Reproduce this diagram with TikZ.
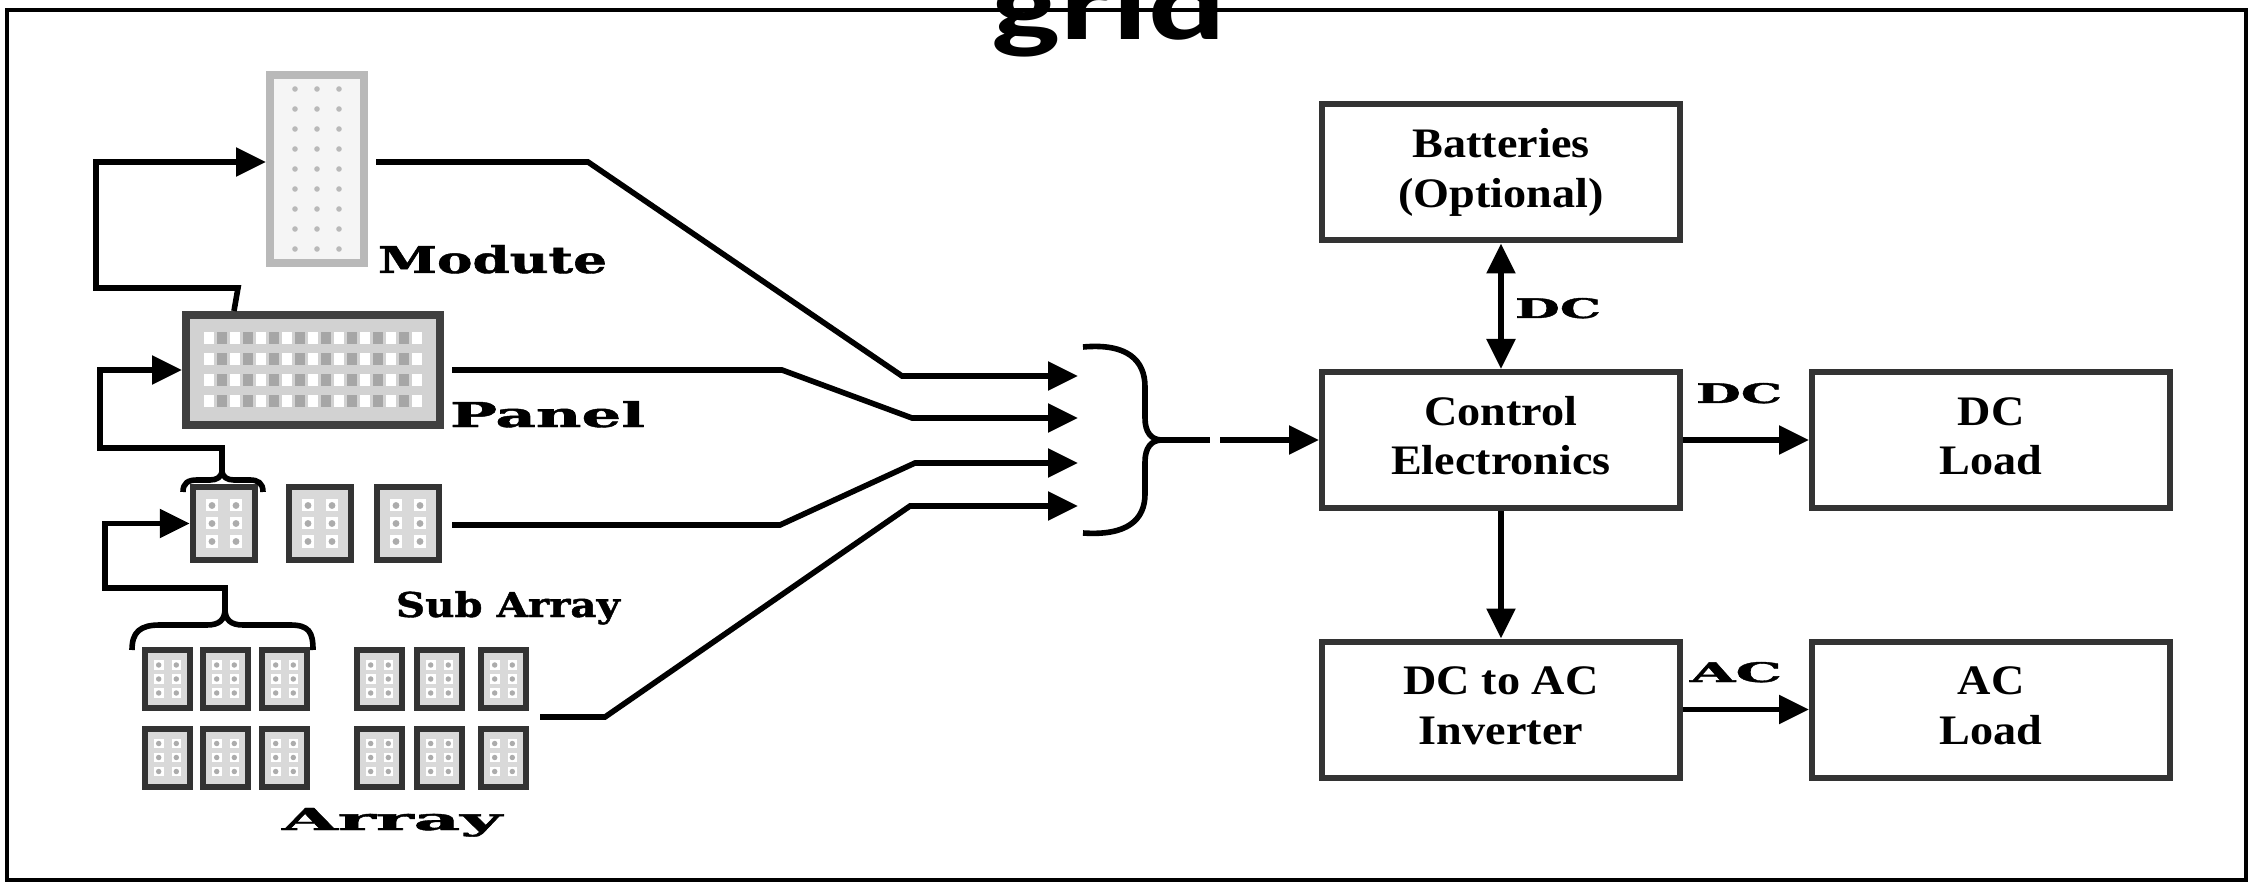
\documentclass[tikz,border=0pt]{standalone}
\usepackage{fontspec}
\setmainfont{Liberation Serif}
\newfontfamily\gridfont{Carlito}
\newfontfamily\slabfont[BoldFeatures={FakeBold=1.2}]{DejaVu Serif}
\usetikzlibrary{arrows.meta,calc}

% two-line box caption
\newcommand\boxtext[1]{\scalebox{1.1}[1]{\fontsize{10.5}{12.5}\selectfont\bfseries\begin{tabular}{@{}c@{}}#1\end{tabular}}}
% heavy slab label fitted to a given width and height
\newcommand\slab[3]{\resizebox{#1}{#2}{\slabfont\bfseries #3}}
% 2x3 cell pattern inside a small PV module
\newcommand\cellpat[3]{%
  \foreach \i in {-1,1}{\foreach \j in {-1,0,1}{%
    \fill[white] ([shift={({\i*#1-#3/2},{\j*#2-#3/2})}]path picture bounding box.center) rectangle ++(#3,#3);
    \fill[gray!65] ([shift={({\i*#1},{\j*#2})}]path picture bounding box.center) circle[radius=#3/3.5];}}}

\tikzset{
  conn/.style={line width=1.4pt, line join=miter},
  arr/.style={conn, -{Triangle[length=7.5pt,width=7pt]}},
  darr/.style={conn, {Triangle[length=7.5pt,width=7pt]}-{Triangle[length=7.5pt,width=7pt]}},
  blk/.style={draw=black!80, line width=1.5pt, minimum width=89.5pt, minimum height=34pt, inner sep=0pt},
  modulebox/.style={draw=gray!55, line width=2pt, fill=gray!8, minimum width=23.5pt, minimum height=47pt, inner sep=0pt,
    path picture={\foreach \i in {-1,0,1}{\foreach \j in {-4,...,4}{
      \fill[gray!55] ([shift={({\i*5.5pt},{\j*5pt})}]path picture bounding box.center) circle[radius=0.7pt];}}}},
  panelbox/.style={draw=black!75, line width=2pt, fill=gray!35, minimum width=63.5pt, minimum height=27.5pt, inner sep=0pt,
    path picture={\foreach \r in {0,...,3}{%
      \foreach \c in {0,2,...,16}{\fill[white] ([shift={({(\c-8)*3.25pt-1.3pt},{(\r-1.5)*5.25pt-1.5pt})}]path picture bounding box.center) rectangle ++(2.6pt,3pt);}
      \foreach \c in {1,3,...,15}{\fill[gray!70] ([shift={({(\c-8)*3.25pt-1.3pt},{(\r-1.5)*5.25pt-1.5pt})}]path picture bounding box.center) rectangle ++(2.6pt,3pt);}}}},
  subcell/.style={draw=black!80, line width=1.6pt, fill=gray!30, minimum width=15.5pt, minimum height=18.25pt, inner sep=0pt,
    path picture={\cellpat{3pt}{4.5pt}{3pt}}},
  arrcell/.style={draw=black!80, line width=1.5pt, fill=gray!30, minimum width=11.25pt, minimum height=14.5pt, inner sep=0pt,
    path picture={\cellpat{2.2pt}{3.5pt}{2.4pt}}},
}

\begin{document}
\begin{tikzpicture}[x=0.25pt,y=-0.25pt]
\useasboundingbox (0,0) rectangle (2258,886);

% outer frame and title fragment
\draw[line width=1.1pt] (7,10) rectangle (2246,880);
\node[anchor=base, inner sep=0pt] (title) at (1109,40) {\gridfont\bfseries\scalebox{1.4}[1]{\fontsize{26}{26}\selectfont grid}};

% PV hierarchy: module, panel, sub array, array
\node[modulebox] (mod) at (317,169) {};
\node[panelbox] (pan) at (313,370) {};
\node[subcell] (sa1) at (224,523.5) {};
\node[subcell] (sa2) at (320,523.5) {};
\node[subcell] (sa3) at (408,523.5) {};
\foreach \x [count=\k] in {167.5,225.5,284.5,379.5,439.5,503.5}{
  \node[arrcell] (ar\k a) at (\x,679) {};
  \node[arrcell] (ar\k b) at (\x,757.5) {};
}

% labels
\node[anchor=base, inner sep=0pt] (lmod) at (492.5,273) {\slab{57.25pt}{7pt}{Modute}};
\node[anchor=base, inner sep=0pt] (lpan) at (547.5,427) {\slab{48.75pt}{6.5pt}{Panel}};
\node[anchor=base, inner sep=0pt] (lsub) at (508,617) {\slab{56pt}{6.5pt}{Sub Array}};
\node[anchor=base, inner sep=0pt] (larr) at (392,830) {\slab{55pt}{5.5pt}{Array}};

% braces over the sub array cell and the array group
\coordinate (sbtip) at (222,470);
\draw[conn, line join=round] (183,492) .. controls (183,483) and (188,480) .. (197,480) -- (210,480)
   .. controls (217,480) and (222,477) .. (sbtip) .. controls (222,477) and (227,480) .. (234,480)
   -- (250,480) .. controls (258,480) and (263,483) .. (263,492);
\coordinate (abtip) at (225,609);
\draw[conn, line join=round] (132,650) .. controls (132,632) and (140,625) .. (160,625) -- (207,625)
   .. controls (219,625) and (225,620) .. (abtip) .. controls (225,620) and (231,625) .. (243,625)
   -- (290,625) .. controls (309,625) and (313,632) .. (313,650);

% feedback arrows: each level builds the one above
\coordinate (mfA) at ($(pan.north west)+(52,0)$);
\draw[arr] (mfA) -- (238,288) -- (96,288) -- (96,162) -- (mod.west |- 0,162);
\draw[arr] (sbtip) -- (222,448) -- (100,448) -- (100,370) -- (pan.west);
\draw[arr] (abtip) -- (225,588) -- (105,588) -- (105,523.5) -- (sa1.west);

% outputs gathered by the brace
\coordinate (inA) at (1078,376);
\coordinate (inB) at (1078,418);
\coordinate (inC) at (1078,463);
\coordinate (inD) at (1078,506);
\draw[arr] (mod.east |- 0,162) ++(8,0) -- (588,162) -- (902,376) -- (inA);
\draw[arr] (pan.east) ++(8,0) -- (782,370) -- (912,418) -- (inB);
\draw[arr] (sa3.east) ++(10,1.5) -- (780,525) -- (915,463) -- (inC);
\draw[arr] (540,717) -- (605,717) -- (910,506) -- (inD);

\coordinate (bgtip) at (1162,440);
\draw[conn, line join=round] (1083,347) .. controls (1127,343) and (1145,360) .. (1145,387) -- (1145,418)
   .. controls (1145,432) and (1151,440) .. (bgtip) .. controls (1151,440) and (1145,448) .. (1145,462)
   -- (1145,494) .. controls (1145,520) and (1127,536) .. (1083,533);

% right-hand system blocks
\node[blk] (bat) at (1501,172.5) {\boxtext{Batteries\\(Optional)}};
\node[blk] (ctrl) at (1501,440) {\boxtext{Control\\Electronics}};
\node[blk] (inv) at (1501,709.5) {\boxtext{DC to AC\\Inverter}};
\node[blk] (dcl) at (1991,440) {\boxtext{DC\\Load}};
\node[blk] (acl) at (1991,709.5) {\boxtext{AC\\Load}};

\coordinate (gapA) at (1210,440);
\coordinate (gapB) at (1220,440);
\draw[conn] (bgtip) -- (gapA);
\draw[arr] (gapB) -- (ctrl.west);

\draw[darr] (bat.south) -- (ctrl.north);
\draw[arr] (ctrl.south) -- (inv.north);
\draw[arr] (ctrl.east) -- (dcl.west);
\draw[arr] (inv.east) -- (acl.west);

\node[anchor=base, inner sep=0pt] (ldc1) at (1558,318) {\slab{21.5pt}{5pt}{DC}};
\node[anchor=base, inner sep=0pt] (ldc2) at (1739,403) {\slab{21.5pt}{5pt}{DC}};
\node[anchor=base, inner sep=0pt] (lac) at (1736,682) {\slab{23pt}{5pt}{AC}};
\end{tikzpicture}
\end{document}
